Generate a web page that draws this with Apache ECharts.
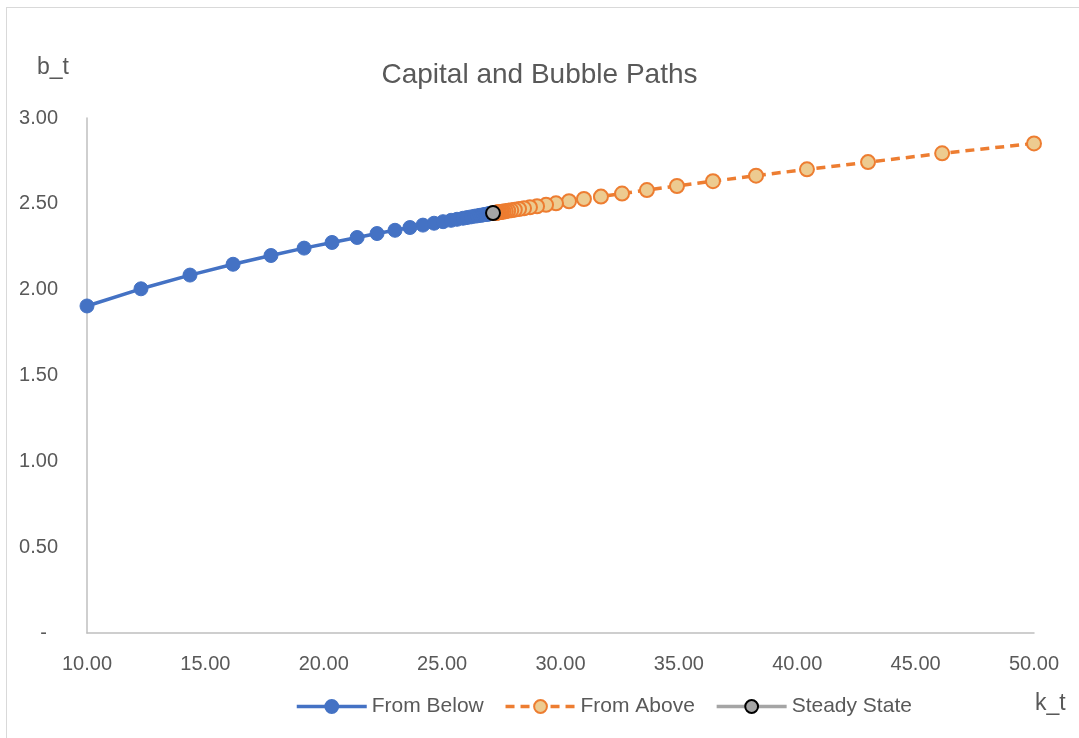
<!DOCTYPE html>
<html>
<head>
<meta charset="utf-8">
<script src="https://cdn.jsdelivr.net/npm/echarts@6/dist/echarts.min.js"></script>
<style>
  html, body { margin: 0; padding: 0; background: #fff; }
  #frame { position: absolute; left: 6px; top: 7px; width: 1100px; height: 760px; border: 1px solid #D9D9D9; }
  #chart { position: absolute; left: 0; top: 0; width: 1079px; height: 738px; }
</style>
</head>
<body>
<div id="frame"></div>
<div id="chart"></div>
<script>
// Capital path approaching the steady state from below
const kBelow = [10.00, 12.28, 14.35, 16.17, 17.77, 19.17, 20.35, 21.41, 22.25, 23.01,
  23.64, 24.19, 24.66, 25.04, 25.38, 25.63, 25.88, 26.05, 26.22, 26.37,
  26.49, 26.59, 26.67, 26.74, 26.81, 26.86, 26.90, 26.94, 26.97, 27.00,
  27.02, 27.04, 27.06, 27.07, 27.08];
const bBelow = [1.905, 2.005, 2.085, 2.148, 2.199, 2.242, 2.275, 2.304, 2.327, 2.346,
  2.362, 2.376, 2.387, 2.396, 2.404, 2.410, 2.416, 2.420, 2.424, 2.428,
  2.430, 2.433, 2.434, 2.436, 2.438, 2.439, 2.440, 2.441, 2.441, 2.442,
  2.443, 2.443, 2.444, 2.444, 2.444];

// Capital path approaching the steady state from above
const kAbove = [50.00, 46.12, 42.99, 40.41, 38.26, 36.44, 34.92, 33.65, 32.60, 31.71,
  30.99, 30.36, 29.81, 29.39, 29.01, 28.71, 28.46, 28.25, 28.07, 27.92,
  27.79, 27.69, 27.60, 27.53, 27.47, 27.41, 27.37, 27.34, 27.31, 27.28,
  27.26, 27.24, 27.23];
const bAbove = [2.852, 2.794, 2.743, 2.701, 2.664, 2.632, 2.604, 2.580, 2.560, 2.542,
  2.528, 2.515, 2.503, 2.494, 2.486, 2.480, 2.474, 2.470, 2.466, 2.462,
  2.460, 2.457, 2.455, 2.454, 2.452, 2.451, 2.450, 2.449, 2.449, 2.448,
  2.448, 2.447, 2.447];

// Steady state
const kSteady = [27.15];
const bSteady = [2.446];

const seriesNames = ['From Below', 'From Above', 'Steady State'];
const chartTitle = 'Capital and Bubble Paths';
const xName = 'k_t';
const yName = 'b_t';

const pairs = (xs, ys) => xs.map((x, i) => [x, ys[i]]);
const FONT = '"Liberation Sans", Arial, sans-serif';
const TEXT = '#595959';

const chart = echarts.init(document.getElementById('chart'), null, { renderer: 'canvas' });
chart.setOption({
  animation: false,
  backgroundColor: 'transparent',
  title: {
    text: chartTitle,
    left: 'center',
    top: 56,
    textStyle: { fontFamily: FONT, fontSize: 28, fontWeight: 'normal', color: TEXT }
  },
  graphic: [
    { type: 'text', left: 37, top: 56, style: { text: yName, font: '23px ' + FONT, fill: TEXT } },
    { type: 'text', left: 1035, top: 692, style: { text: xName, font: '23px ' + FONT, fill: TEXT } }
  ],
  legend: {
    data: seriesNames,
    left: 290,
    top: 691,
    itemWidth: 70,
    itemHeight: 16,
    itemGap: 20,
    lineStyle: { width: 3.5 },
    textStyle: { fontFamily: FONT, fontSize: 21, color: TEXT }
  },
  grid: { left: 87, right: 45, top: 118, bottom: 105, containLabel: false },
  xAxis: {
    type: 'value',
    min: 10, max: 50, interval: 5,
    axisLine: { show: true, lineStyle: { color: '#BFBFBF', width: 1.5 } },
    axisTick: { show: false },
    splitLine: { show: false },
    axisLabel: {
      margin: 21, color: TEXT, fontFamily: FONT, fontSize: 20,
      formatter: v => v.toFixed(2)
    }
  },
  yAxis: {
    type: 'value',
    min: 0, max: 3, interval: 0.5,
    axisLine: { show: true, lineStyle: { color: '#BFBFBF', width: 1.5 } },
    axisTick: { show: false },
    splitLine: { show: false },
    axisLabel: {
      margin: 29, color: TEXT, fontFamily: FONT, fontSize: 20,
      formatter: v => (v === 0 ? '-  ' : v.toFixed(2))
    }
  },
  series: [
    {
      name: seriesNames[0], type: 'line', z: 2,
      data: pairs(kBelow, bBelow),
      symbol: 'circle', symbolSize: 14,
      lineStyle: { color: '#4472C4', width: 3.5 },
      itemStyle: { color: '#4472C4', borderColor: '#4472C4', borderWidth: 1 }
    },
    {
      name: seriesNames[1], type: 'line', z: 3,
      data: pairs(kAbove, bAbove),
      symbol: 'circle', symbolSize: 14,
      lineStyle: { color: '#ED7D31', width: 3.5, type: [9, 6] },
      itemStyle: { color: '#EDCB90', borderColor: '#ED7D31', borderWidth: 2 }
    },
    {
      name: seriesNames[2], type: 'line', z: 4,
      data: pairs(kSteady, bSteady),
      symbol: 'circle', symbolSize: 14,
      lineStyle: { color: '#A5A5A5', width: 3.5 },
      itemStyle: { color: '#A5A5A5', borderColor: '#000000', borderWidth: 2 }
    }
  ]
});
</script>
</body>
</html>
